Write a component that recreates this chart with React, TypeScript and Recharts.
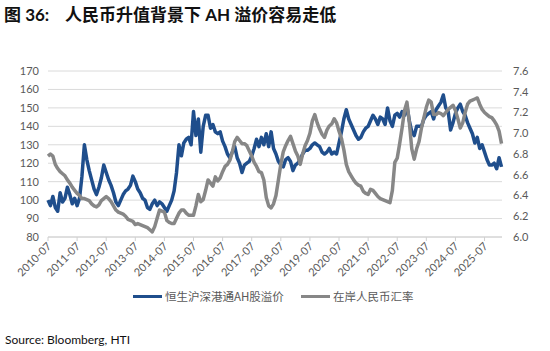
import React from 'react';
import { LineChart, Line, XAxis, YAxis, CartesianGrid } from 'recharts';

// monthly readings, 2010-07 .. 2026-02
const START_YEAR = 2010.5;

const AH_PREMIUM = [
  100, 97, 102, 96, 94, 104, 99, 101, 107, 103, 98, 101,
  97, 101, 113, 130, 122, 116, 111, 106, 103, 107, 112, 119,
  115, 111, 108, 104, 99, 97, 100, 103, 105, 106, 108, 113,
  110, 106, 104, 101, 100, 96, 95, 98, 100, 97, 99, 98,
  96, 94, 97, 100, 105, 115, 130, 124, 131, 133, 134, 130,
  148, 135, 144, 126, 140, 146, 146, 139, 141, 137, 136, 137,
  132, 129, 125, 123, 126, 129, 123, 120, 115, 119, 120, 121,
  124, 128, 133, 129, 134, 130, 136, 129, 137, 128, 125, 121,
  119, 118, 122, 123, 121, 116, 119, 120, 122, 125, 127, 127,
  128, 130, 131, 130, 129, 126, 125, 126, 128, 125, 126, 125,
  131, 137, 144, 149, 144, 141, 138, 135, 133, 134, 137, 139,
  140, 143, 146, 144, 141, 145, 144, 141, 150, 143, 140, 146,
  147, 145, 148, 146, 151, 143, 137, 135, 140, 140, 140, 144,
  146, 147, 148, 144, 149, 151, 153, 157, 150, 148, 138, 142,
  147, 150, 152, 148, 146, 142, 139, 136, 131, 134, 128, 130,
  126, 122, 119, 119, 120, 117, 123, 118,
];

const CNY_RATE = [
  6.78, 6.80, 6.78, 6.70, 6.66, 6.63, 6.61, 6.59, 6.55, 6.52, 6.48, 6.45,
  6.42, 6.40, 6.37, 6.37, 6.36, 6.35, 6.32, 6.30, 6.29, 6.31, 6.35, 6.37,
  6.39, 6.37, 6.34, 6.30, 6.26, 6.24, 6.23, 6.22, 6.20, 6.17, 6.16, 6.15,
  6.12, 6.13, 6.12, 6.11, 6.10, 6.09, 6.07, 6.05, 6.10, 6.18, 6.26, 6.25,
  6.24, 6.16, 6.14, 6.13, 6.13, 6.18, 6.23, 6.26, 6.26, 6.23, 6.21, 6.21,
  6.21, 6.30, 6.41, 6.34, 6.36, 6.45, 6.55, 6.52, 6.49, 6.58, 6.54, 6.57,
  6.63, 6.68, 6.70, 6.74, 6.82, 6.92, 6.96, 6.93, 6.90, 6.90, 6.88, 6.83,
  6.78, 6.72, 6.68, 6.63, 6.62, 6.55, 6.38, 6.30, 6.28, 6.32, 6.40, 6.55,
  6.70, 6.82, 6.88, 6.93, 6.97, 6.90, 6.83, 6.78, 6.70, 6.80, 6.88, 6.93,
  7.00, 7.12, 7.18, 7.10, 7.04, 6.99, 6.96, 7.03, 7.07, 7.09, 7.14, 7.10,
  7.02, 6.95, 6.84, 6.70, 6.63, 6.59, 6.55, 6.52, 6.50, 6.49, 6.44, 6.42,
  6.41, 6.46, 6.45, 6.42, 6.39, 6.37, 6.36, 6.35, 6.34, 6.33, 6.45, 6.72,
  6.76, 6.90, 7.05, 7.22, 7.30, 7.10, 6.85, 6.75, 6.85, 6.92, 7.05, 7.15,
  7.25, 7.32, 7.30, 7.18, 7.18, 7.20, 7.19, 7.17, 7.20, 7.23, 7.25, 7.27,
  7.22, 7.14, 7.05, 7.10, 7.20, 7.28, 7.31, 7.32, 7.33, 7.34, 7.28, 7.23,
  7.20, 7.18, 7.16, 7.15, 7.12, 7.08, 7.02, 6.90,
];

const X_LABELS = [
  '2010-07', '2011-07', '2012-07', '2013-07', '2014-07', '2015-07', '2016-07', '2017-07',
  '2018-07', '2019-07', '2020-07', '2021-07', '2022-07', '2023-07', '2024-07', '2025-07',
];
const LEFT_TICKS = [80, 90, 100, 110, 120, 130, 140, 150, 160, 170];
const RIGHT_TICKS = [6.0, 6.2, 6.4, 6.6, 6.8, 7.0, 7.2, 7.4, 7.6];

const SERIES_NAMES = ['恒生沪深港通AH股溢价', '在岸人民币汇率'];
const BLUE = '#1F4E8C';
const GRAY = '#878787';
const AXIS_TEXT = '#595959';

const data = AH_PREMIUM.map((v, i) => ({ t: START_YEAR + i / 12, ah: v, cny: CNY_RATE[i] }));
const xTicks = X_LABELS.map((s) => parseInt(s.slice(0, 4), 10) + 0.5);

const XTick = (props: any) => {
  const { x, y, payload } = props;
  const label = `${Math.floor(payload.value)}-07`;
  return (
    <text
      x={x + 4}
      y={y + 4}
      textAnchor="end"
      fill={AXIS_TEXT}
      fontSize={11}
      fontFamily="Lato, 'Noto Sans', sans-serif"
      transform={`rotate(-45, ${x + 4}, ${y + 4})`}
    >
      {label}
    </text>
  );
};

const LegendItem = ({ color, text, left }: { color: string; text: string; left: number }) => (
  <div style={{ position: 'absolute', left, top: 288, height: 16, display: 'flex', alignItems: 'center' }}>
    <div style={{ width: 29, height: 3, background: color, marginRight: 3 }} />
    <span style={{ fontSize: 11.5, color: AXIS_TEXT, fontFamily: "'Noto Sans CJK SC', sans-serif", whiteSpace: 'nowrap' }}>
      {text}
    </span>
  </div>
);

export default function App() {
  const tickStyle = { fill: AXIS_TEXT, fontSize: 11, fontFamily: "Lato, 'Noto Sans', sans-serif" };
  return (
    <div style={{ position: 'absolute', left: 0, top: 0, width: 550, height: 351, background: '#fff', overflow: 'hidden' }}>
      <div
        style={{
          position: 'absolute', left: 4, top: 6, fontSize: 17, lineHeight: '18px', fontWeight: 700,
          fontFamily: "Lato, 'Noto Sans CJK SC', sans-serif", color: '#111', whiteSpace: 'nowrap',
        }}
      >
        图 36:
      </div>
      <div
        style={{
          position: 'absolute', left: 65, top: 6, fontSize: 17, lineHeight: '18px', fontWeight: 700,
          fontFamily: "Lato, 'Noto Sans CJK SC', sans-serif", color: '#111', whiteSpace: 'nowrap',
        }}
      >
        人民币升值背景下 AH 溢价容易走低
      </div>

      <div style={{ position: 'absolute', left: 0, top: 0 }}>
        <LineChart width={550} height={351} data={data} margin={{ top: 71, right: 0, left: 0, bottom: 64 }}>
          <CartesianGrid yAxisId="left" vertical={false} stroke="#DADADA" />
          <XAxis
            dataKey="t"
            type="number"
            domain={[START_YEAR, 2026.1]}
            ticks={xTicks}
            interval={0}
            height={50}
            axisLine={{ stroke: '#D0D0D0' }}
            tickLine={{ stroke: '#D0D0D0' }}
            tickSize={4}
            tick={<XTick />}
          />
          <YAxis
            yAxisId="left"
            width={48}
            domain={[80, 170]}
            ticks={LEFT_TICKS}
            axisLine={false}
            tickLine={false}
            tickSize={0}
            tickMargin={9}
            tick={tickStyle}
            interval={0}
          />
          <YAxis
            yAxisId="right"
            orientation="right"
            width={48}
            domain={[6.0, 7.6]}
            ticks={RIGHT_TICKS}
            axisLine={false}
            tickLine={false}
            tickSize={0}
            tickMargin={11}
            tick={{ ...tickStyle, textAnchor: 'start' }}
            tickFormatter={(v: number) => v.toFixed(1)}
            interval={0}
          />
          <Line yAxisId="left" type="linear" dataKey="ah" stroke={BLUE} strokeWidth={3.5} strokeLinejoin="round" dot={false} isAnimationActive={false} />
          <Line yAxisId="right" type="linear" dataKey="cny" stroke={GRAY} strokeWidth={3.5} strokeLinejoin="round" dot={false} isAnimationActive={false} />
        </LineChart>
      </div>

      <LegendItem color={BLUE} text={SERIES_NAMES[0]} left={133} />
      <LegendItem color={GRAY} text={SERIES_NAMES[1]} left={301} />

      <div
        style={{
          position: 'absolute', left: 5, top: 332, fontSize: 12, fontFamily: "Lato, 'Noto Sans', sans-serif",
          color: '#111', whiteSpace: 'nowrap',
        }}
      >
        Source: Bloomberg, HTI
      </div>
    </div>
  );
}
